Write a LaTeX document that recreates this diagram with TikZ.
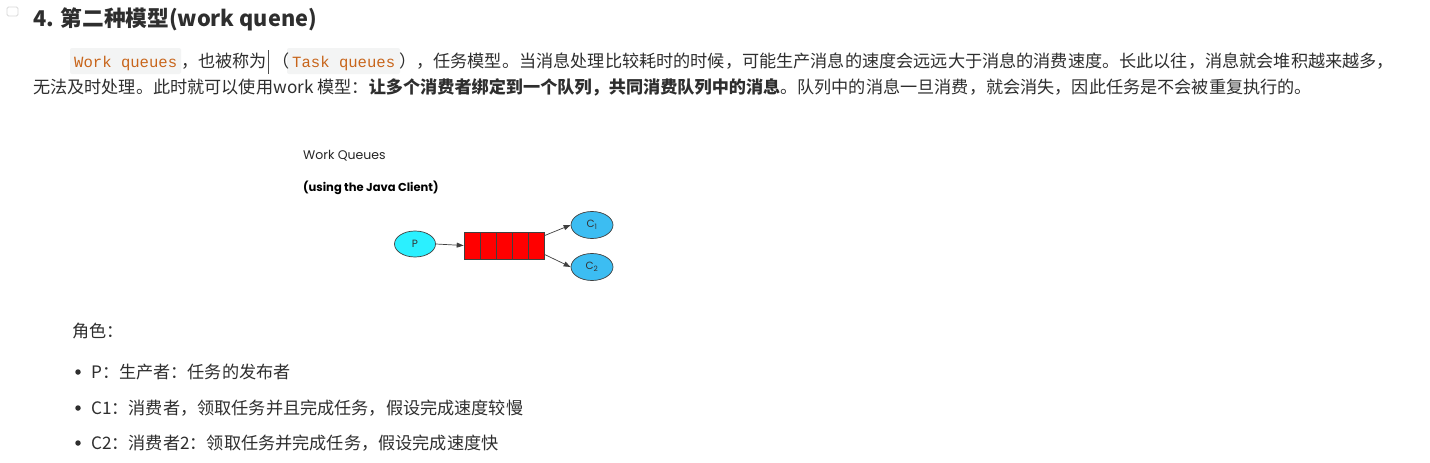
\documentclass[tikz,border=0pt]{standalone}
\usepackage{fontspec}
\setmainfont{Noto Sans CJK SC}
\newfontfamily\codefont{Liberation Mono}
\newfontfamily\diafont{Poppins}
\usetikzlibrary{arrows.meta,shapes.geometric}
\definecolor{txt}{HTML}{2E2E2E}
\definecolor{codeorange}{HTML}{C8651B}
\definecolor{codebg}{HTML}{F3F4F4}
\definecolor{pcyan}{HTML}{2BF0FF}
\definecolor{ccyan}{HTML}{3CBDF2}
\definecolor{qred}{HTML}{FF0000}
\tikzset{
  txtnode/.style={inner sep=0pt, anchor=base west, text=txt, font=\fontsize{17.15}{20}\selectfont},
  codenode/.style={inner sep=0pt, anchor=base west, text=codeorange, font=\codefont\fontsize{15.6}{20}\selectfont},
  ellnode/.style={ellipse, draw=black!75, line width=0.7pt, minimum width=42pt, minimum height=27pt, inner sep=0pt, font=\diafont\fontsize{10.5}{12}\selectfont, text=black!80},
  qcell/.style={rectangle, draw=black!75, fill=qred, line width=0.7pt, minimum width=16pt, minimum height=27pt, inner sep=0pt},
  arr/.style={-{Triangle[length=7pt,width=5pt]}, draw=black!75, line width=0.7pt},
  bulletdot/.style={circle, fill=txt, inner sep=0pt, minimum size=5.5pt}
}
\begin{document}
\begin{tikzpicture}[x=1pt,y=-1pt]
\useasboundingbox (0,0) rectangle (1430,463);
\fill[white] (0,0) rectangle (1430,463);
% small UI icon
\draw[black!15, line width=0.8pt, rounded corners=1.5pt] (7,7) rectangle (18,16);
% heading
\node[txtnode, font=\bfseries\fontsize{21.7}{26}\selectfont] (h) at (33,26) {4. 第二种模型(work quene)};
% paragraph line 1
\fill[codebg, rounded corners=2pt] (70,48) rectangle (181,74);
\fill[codebg, rounded corners=2pt] (287,48) rectangle (400,74);
\node[codenode] (wq) at (74,67) {Work queues};
\node[txtnode] (p1a) at (181,67) {，也被称为};
\draw[black!70, line width=0.8pt] (268,50) -- (268,74);
\node[txtnode] (p1b) at (272,67) {（};
\node[codenode] (tq) at (292,67) {Task queues};
\node[txtnode] (p1c) at (399,67) {），任务模型。当消息处理比较耗时的时候，可能生产消息的速度会远远大于消息的消费速度。长此以往，消息就会堆积越来越多，};
% paragraph line 2
\node[txtnode] (p2) at (33,93) {无法及时处理。此时就可以使用work 模型：\textbf{让多个消费者绑定到一个队列，共同消费队列中的消息}。队列中的消息一旦消费，就会消失，因此任务是不会被重复执行的。};
% diagram
\node[inner sep=0pt, anchor=base west, font=\diafont\fontsize{12.5}{15}\selectfont, text=black!85] (wt) at (303,159) {Work Queues};
\node[inner sep=0pt, anchor=base west, font=\diafont\bfseries\fontsize{11.5}{14}\selectfont, text=black] (wst) at (303,191) {(using the Java Client)};
\node[ellnode, fill=pcyan, minimum width=41pt, minimum height=26pt] (P) at (415,244) {P};
\node[qcell] (q1) at (472,245.5) {};
\node[qcell] (q2) at (488,245.5) {};
\node[qcell] (q3) at (504,245.5) {};
\node[qcell] (q4) at (520,245.5) {};
\node[qcell] (q5) at (536,245.5) {};
\node[ellnode, fill=ccyan] (C1) at (592,225) {C\textsubscript{1}};
\node[ellnode, fill=ccyan] (C2) at (592,267) {C\textsubscript{2}};
\draw[arr] (P.east) -- (q1.west);
\draw[arr] (q5.north east) ++(0,4) -- (C1.west);
\draw[arr] (q5.south east) ++(0,-5) -- (C2.west);
% roles
\node[txtnode] (role) at (72,337) {角色：};
\node[bulletdot] (b1) at (78,372) {};
\node[txtnode] (r1) at (91,378) {P：生产者：任务的发布者};
\node[bulletdot] (b2) at (78,408) {};
\node[txtnode] (r2) at (91,414) {C1：消费者，领取任务并且完成任务，假设完成速度较慢};
\node[bulletdot] (b3) at (78,443) {};
\node[txtnode] (r3) at (91,449) {C2：消费者2：领取任务并完成任务，假设完成速度快};
\end{tikzpicture}
\end{document}
